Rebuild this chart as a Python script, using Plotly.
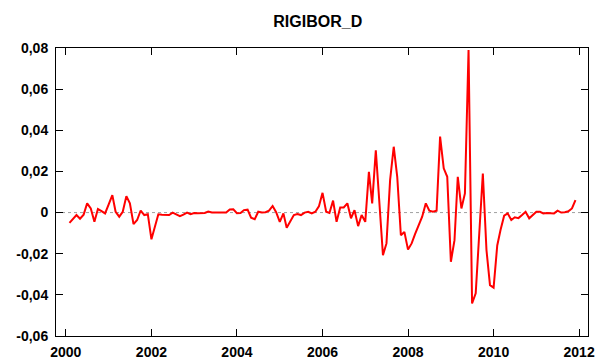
import pandas as pd
import plotly.graph_objects as go

# Monthly observations, Feb 2000 .. Dec 2011
start_month = "2000-02-01"
rigibor_d = [
    -0.0050, -0.0030, -0.0012, -0.0030, -0.0010, 0.0045, 0.0020, -0.0045, 0.0017, 0.0007, -0.0004, 0.0040,
    0.0085, 0.0004, -0.0020, 0.0004, 0.0080, 0.0045, -0.0056, -0.0036, 0.0010, -0.0012, -0.0008, -0.0130,
    -0.0070, -0.0008, -0.0010, -0.0012, -0.0012, 0.0000, -0.0008, -0.0017, -0.0010, 0.0000, -0.0008, -0.0002,
    -0.0003, -0.0004, -0.0002, 0.0005, 0.0000, 0.0000, 0.0000, 0.0000, 0.0000, 0.0015, 0.0016, -0.0003,
    -0.0002, 0.0012, 0.0014, -0.0025, -0.0032, 0.0004, 0.0000, 0.0002, 0.0009, 0.0032, 0.0002, -0.0045,
    -0.0004, -0.0074, -0.0045, -0.0012, -0.0007, -0.0012, 0.0000, 0.0004, -0.0004, 0.0004, 0.0030, 0.0096,
    0.0004, -0.0002, 0.0058, -0.0045, 0.0025, 0.0025, 0.0045, -0.0028, 0.0012, -0.0066, -0.0012, -0.0045,
    0.0198, 0.0045, 0.0303, 0.0030, -0.0207, -0.0150, 0.0158, 0.0320, 0.0174, -0.0110, -0.0094, -0.0180,
    -0.0150, -0.0105, -0.0060, -0.0020, 0.0045, 0.0009, 0.0004, 0.0009, 0.0369, 0.0215, 0.0174, -0.0239,
    -0.0134, 0.0174, 0.0020, 0.0093, 0.0790, -0.0442, -0.0393, -0.0100, 0.0190, -0.0182, -0.0353, -0.0365,
    -0.0160, -0.0085, -0.0015, -0.0004, -0.0036, -0.0023, -0.0027, -0.0012, 0.0004, -0.0028, -0.0012, 0.0004,
    0.0004, -0.0004, -0.0002, -0.0004, -0.0004, 0.0009, 0.0000, 0.0002, 0.0006, 0.0020, 0.0061,
]
dates = pd.date_range(start_month, periods=len(rigibor_d), freq="MS")

y_tick_vals = [-0.06, -0.04, -0.02, 0, 0.02, 0.04, 0.06, 0.08]
y_tick_text = ["-0,06", "-0,04", "-0,02", "0", "0,02", "0,04", "0,06", "0,08"]
x_tick_vals = ["2000-01-01", "2002-01-01", "2004-01-01", "2006-01-01",
               "2008-01-01", "2010-01-01", "2012-01-01"]
x_tick_text = ["2000", "2002", "2004", "2006", "2008", "2010", "2012"]

FONT = "Liberation Sans, Arial, sans-serif"

fig = go.Figure()
fig.add_trace(go.Scatter(
    x=dates, y=rigibor_d, mode="lines",
    line=dict(color="#ff0000", width=2),
    showlegend=False, hoverinfo="skip",
))

fig.add_shape(type="line", xref="paper", yref="y", x0=0, x1=1, y0=0, y1=0,
              line=dict(color="#a0a0a0", width=1, dash="dot"), layer="below")

fig.update_layout(
    width=599, height=360,
    margin=dict(l=56, r=11, t=48, b=24),
    paper_bgcolor="white", plot_bgcolor="white",
    font=dict(family=FONT, size=14, color="black", weight="bold"),
    title=dict(text="RIGIBOR_D", x=0.5305, xanchor="center", y=0.94, yanchor="middle",
               font=dict(family=FONT, size=16, color="black", weight="bold")),
)
fig.update_xaxes(
    type="date", range=["1999-10-09", "2012-03-17"], automargin=False,
    tickmode="array", tickvals=x_tick_vals, ticktext=x_tick_text,
    ticks="inside", ticklen=7, tickcolor="black", tickwidth=1,
    showline=True, linecolor="black", linewidth=1, mirror="ticks",
    showgrid=False, zeroline=False, ticklabelstandoff=3,
)
fig.update_yaxes(
    range=[-0.06, 0.08], automargin=False,
    tickmode="array", tickvals=y_tick_vals, ticktext=y_tick_text,
    ticks="inside", ticklen=7, tickcolor="black", tickwidth=1,
    showline=True, linecolor="black", linewidth=1, mirror="ticks",
    showgrid=False, zeroline=False, ticklabelstandoff=4,
)

fig.write_html("out.html")
